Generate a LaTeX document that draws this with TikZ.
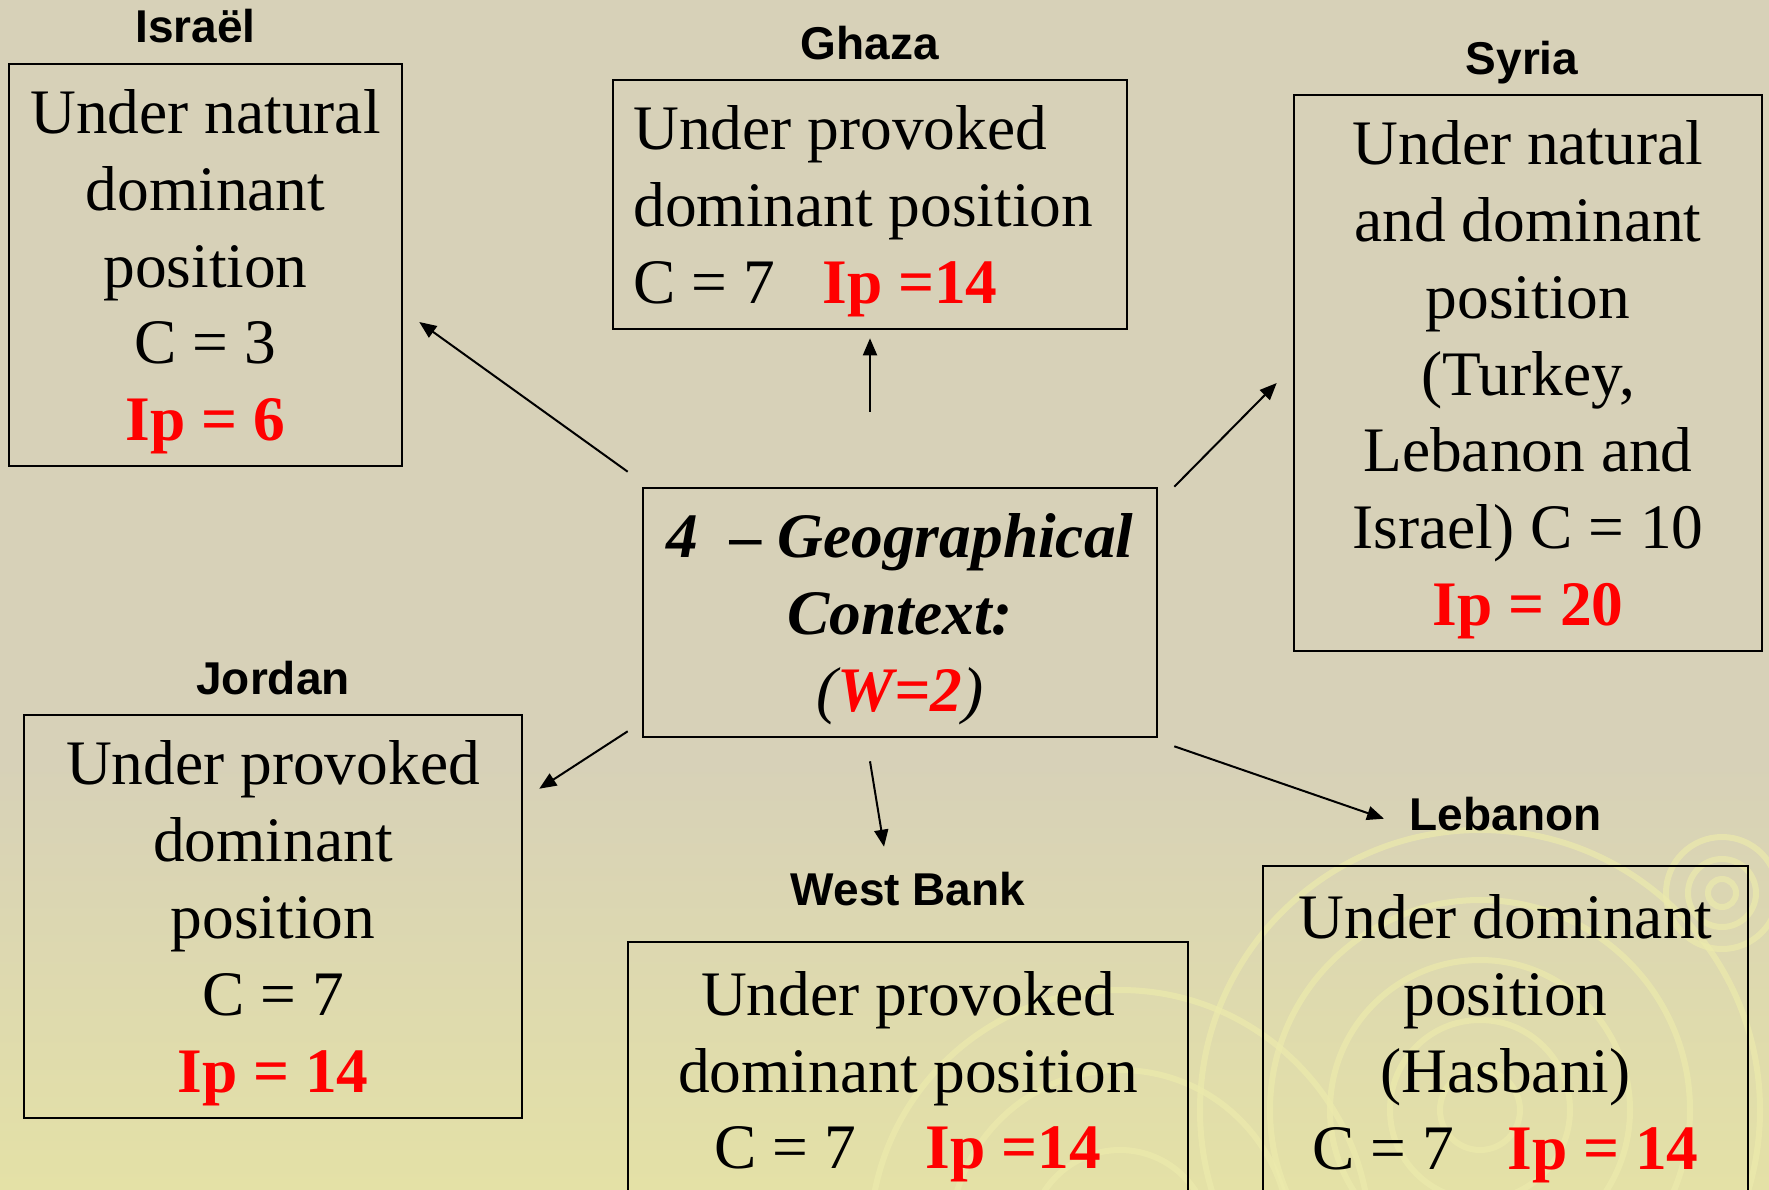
\documentclass[tikz,border=0pt]{standalone}
\definecolor{slidebeige}{RGB}{215,209,184}
\definecolor{slideyellow}{RGB}{228,225,166}
\definecolor{swirlyellow}{RGB}{236,234,172}
\definecolor{ipred}{RGB}{255,0,0}
\usepackage{fontspec}
\setmainfont{Liberation Serif}
\newfontfamily\labelfont{Liberation Sans}
\usepackage{tikz}
\usetikzlibrary{positioning,arrows.meta}
\newcommand{\ipval}[1]{\textcolor{ipred}{\textbf{#1}}}

\begin{document}
\begin{tikzpicture}[x=0.5pt,y=-0.5pt,
    box/.style={draw=black, line width=1.3pt, inner sep=0pt, align=center,
        font=\fontsize{31.7}{38.4}\selectfont, text depth=-2.5pt},
    country/.style={inner sep=0pt, text depth=0pt, font=\labelfont\bfseries\fontsize{23}{27}\selectfont},
    link/.style={line width=1pt, -{Triangle[length=8.5pt,width=7pt]}}]
    \useasboundingbox (0,0) rectangle (1769,1190);
    \clip (0,0) rectangle (1769,1190);
    \fill[slidebeige] (0,0) rectangle (1769,1190);
    \shade[top color=slidebeige, bottom color=slideyellow] (0,760) rectangle (1769,1190);
    \begin{scope}[swirlyellow, line width=3pt, opacity=0.7]
        \foreach \r in {40,90,150,210,280}
            \draw (1480,1110) circle (\r);
        \foreach \r in {90,170,250}
            \draw (1120,1240) circle (\r);
        \foreach \r in {14,34,56}
            \draw (1722,893) circle (\r);
    \end{scope}

    \node[box, minimum width=196.5pt, minimum height=201pt] (israel) at (205.5,265)
        {Under natural\\ dominant\\ position\\ C = 3\\ \ipval{Ip = 6}};
    \node[box, align=left, minimum width=257pt, minimum height=124.5pt] (ghaza) at (870,204.5)
        {Under provoked\\ dominant position\hspace*{6.8pt}\mbox{}\\ C = 7\hspace{0.75em}\ipval{Ip =14}};
    \node[box, minimum width=234pt, minimum height=278pt] (syria) at (1528,373)
        {Under natural\\ and dominant\\ position\\ (Turkey,\\ Lebanon and\\ Israel) C = 10\\ \ipval{Ip = 20}};
    \node[box, minimum width=257pt, minimum height=124.5pt,
        font=\fontsize{31.7}{38.4}\selectfont\bfseries\itshape] (hub) at (900,612.5)
        {4\ \ -- Geographical\\ Context:\\ {\mdseries(}\textcolor{ipred}{W=2}{\mdseries)}};
    \node[box, minimum width=249pt, minimum height=201.5pt] (jordan) at (273,916.5)
        {Under provoked\\ dominant\\ position\\ C = 7\\ \ipval{Ip = 14}};
    \node[box, minimum width=280pt, minimum height=128pt] (westbank) at (908,1070)
        {Under provoked\\ dominant position\\ C = 7\hspace{1.1em}\ipval{Ip =14}};
    \node[box, minimum width=242.5pt, minimum height=166pt] (lebanon) at (1505.5,1032)
        {Under dominant\\ position\\ (Hasbani)\\ C = 7\hspace{0.85em}\ipval{Ip = 14}};

    \node[country, above=9.75pt of israel, xshift=-5pt] (israelname) {Israël};
    \node[country, above=9.25pt of ghaza] (ghazaname) {Ghaza};
    \node[country, above=9.25pt of syria, xshift=-3pt] (syrianame) {Syria};
    \node[country, above=9.25pt of jordan] (jordanname) {Jordan};
    \node[country, above=17.25pt of westbank] (westbankname) {West Bank};
    \node[country, above=16.75pt of lebanon] (lebanonname) {Lebanon};

    \draw[link] ([shift={(-14,-15)}]hub.north west) -- ([shift={(16,57)}]israel.east);
    \draw[link] ([shift={(-30,-75)}]hub.north) -- ([shift={(0,8)}]ghaza.south);
    \draw[link] ([shift={(16,0)}]hub.north east) -- ([shift={(-16,10)}]syria.west);
    \draw[link] ([shift={(-14,-7)}]hub.south west) -- ([shift={(16,75)}]jordan.north east);
    \draw[link] ([shift={(-30,23)}]hub.south) -- ([shift={(-24,-94)}]westbank.north);
    \draw[link] ([shift={(16,8)}]hub.south east) -- ([shift={(-121.5,-46)}]lebanon.north);
\end{tikzpicture}
\end{document}
